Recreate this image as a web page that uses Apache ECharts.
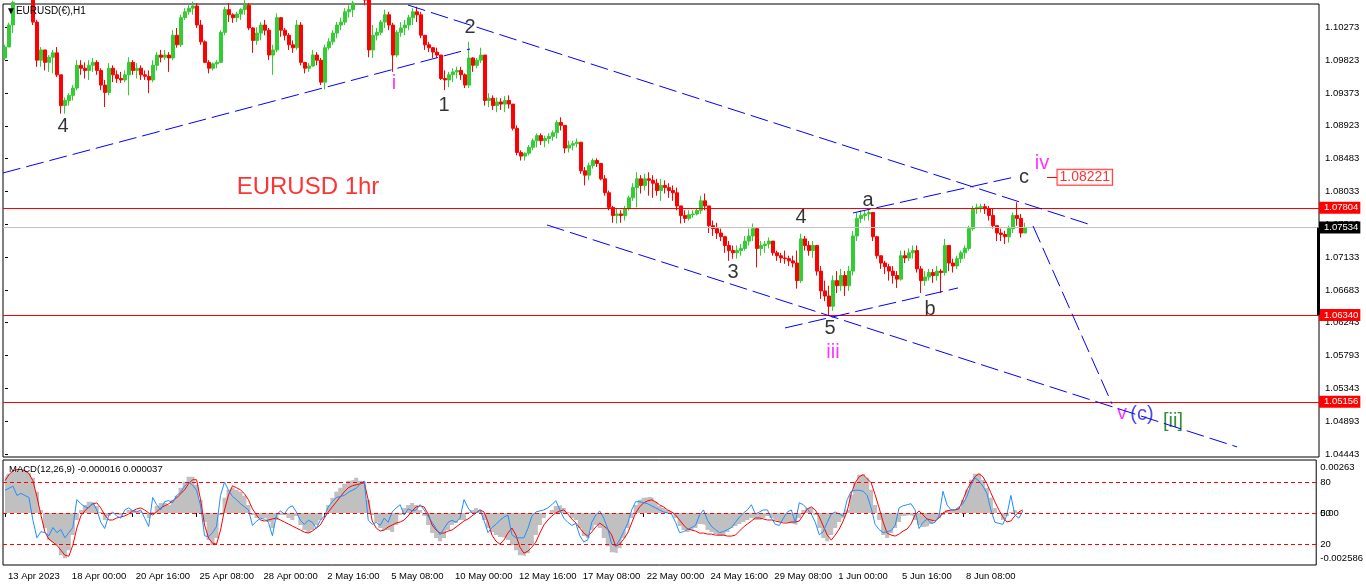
<!DOCTYPE html>
<html>
<head>
<meta charset="utf-8">
<script src="https://cdn.jsdelivr.net/npm/echarts@6/dist/echarts.min.js"></script>
<style>
html, body { margin: 0; padding: 0; background: #fff; }
#main { width: 1366px; height: 588px; }
</style>
</head>
<body>
<div id="main"></div>
<script>
const opens = [
  1.0985,1.1000,1.1030,1.1061,1.1071,1.1075,1.1068,1.1064,1.1034,1.0982,
  1.0996,1.0979,1.0986,1.0992,1.0962,1.0920,1.0927,1.0934,1.0944,1.0975,
  1.0971,1.0968,1.0975,1.0979,1.0968,1.0948,1.0938,1.0971,1.0962,1.0957,
  1.0955,1.0962,1.0979,1.0968,1.0971,1.0962,1.0960,1.0955,1.0975,1.0989,
  1.0986,1.0989,1.0985,1.1016,1.1003,1.1040,1.1048,1.1053,1.1056,1.1030,
  1.1007,1.0979,1.0971,1.0977,1.0979,1.1020,1.1051,1.1044,1.1040,1.1045,
  1.1051,1.1057,1.1026,1.1009,1.1019,1.1030,1.1023,1.0989,1.0996,1.1040,
  1.1023,1.1016,1.1003,1.0999,1.1030,1.0979,1.0971,1.0974,1.0989,1.0982,
  1.0952,1.0999,1.1007,1.1019,1.1030,1.1034,1.1048,1.1051,1.1060,1.1064,
  1.1071,1.1064,1.0996,1.1016,1.1020,1.1034,1.1044,1.1030,1.0989,1.1020,
  1.1026,1.1030,1.1040,1.1048,1.1044,1.1016,1.1003,1.0999,1.0993,1.0989,
  1.0957,1.0955,1.0962,1.0966,1.0968,1.0962,1.0948,1.0985,1.0975,1.0982,
  1.0989,1.0927,1.0930,1.0920,1.0925,1.0922,1.0927,1.0922,1.0889,1.0856,
  1.0851,1.0855,1.0863,1.0872,1.0879,1.0872,1.0875,1.0878,1.0883,1.0897,
  1.0893,1.0862,1.0866,1.0868,1.0870,1.0831,1.0825,1.0838,1.0845,1.0841,
  1.0820,1.0801,1.0781,1.0770,1.0772,1.0770,1.0779,1.0794,1.0808,1.0820,
  1.0811,1.0820,1.0818,1.0814,1.0804,1.0811,1.0808,1.0804,1.0801,1.0783,
  1.0770,1.0766,1.0771,1.0772,1.0777,1.0790,1.0783,1.0756,1.0752,1.0746,
  1.0741,1.0729,1.0722,1.0719,1.0722,1.0725,1.0735,1.0742,1.0752,1.0725,
  1.0729,1.0731,1.0735,1.0719,1.0715,1.0712,1.0711,1.0708,1.0705,1.0681,
  1.0738,1.0729,1.0722,1.0729,1.0694,1.0667,1.0660,1.0646,1.0681,1.0674,
  1.0688,1.0674,1.0694,1.0742,1.0766,1.0770,1.0772,1.0774,1.0741,1.0715,
  1.0705,1.0700,1.0694,1.0688,1.0683,1.0715,1.0712,1.0719,1.0722,1.0697,
  1.0681,1.0686,1.0692,1.0688,1.0694,1.0692,1.0729,1.0705,1.0701,1.0711,
  1.0719,1.0725,1.0752,1.0779,1.0781,1.0782,1.0779,1.0770,1.0756,1.0746,
  1.0744,1.0741,1.0752,1.0770,1.0766,1.0746
];
const closes = [
  1.1000,1.1030,1.1061,1.1071,1.1075,1.1068,1.1064,1.1034,1.0982,1.0996,
  1.0979,1.0986,1.0992,1.0962,1.0920,1.0927,1.0934,1.0944,1.0975,1.0971,
  1.0968,1.0975,1.0979,1.0968,1.0948,1.0938,1.0971,1.0962,1.0957,1.0955,
  1.0962,1.0979,1.0968,1.0971,1.0962,1.0960,1.0955,1.0975,1.0989,1.0986,
  1.0989,1.0985,1.1016,1.1003,1.1040,1.1048,1.1053,1.1056,1.1030,1.1007,
  1.0979,1.0971,1.0977,1.0979,1.1020,1.1051,1.1044,1.1040,1.1045,1.1051,
  1.1057,1.1026,1.1009,1.1019,1.1030,1.1023,1.0989,1.0996,1.1040,1.1023,
  1.1016,1.1003,1.0999,1.1030,1.0979,1.0971,1.0974,1.0989,1.0982,1.0952,
  1.0999,1.1007,1.1019,1.1030,1.1034,1.1048,1.1051,1.1060,1.1064,1.1071,
  1.1064,1.0996,1.1016,1.1020,1.1034,1.1044,1.1030,1.0989,1.1020,1.1026,
  1.1030,1.1040,1.1048,1.1044,1.1016,1.1003,1.0999,1.0993,1.0989,1.0957,
  1.0955,1.0962,1.0966,1.0968,1.0962,1.0948,1.0985,1.0975,1.0982,1.0989,
  1.0927,1.0930,1.0920,1.0925,1.0922,1.0927,1.0922,1.0889,1.0856,1.0851,
  1.0855,1.0863,1.0872,1.0879,1.0872,1.0875,1.0878,1.0883,1.0897,1.0893,
  1.0862,1.0866,1.0868,1.0870,1.0831,1.0825,1.0838,1.0845,1.0841,1.0820,
  1.0801,1.0781,1.0770,1.0772,1.0770,1.0779,1.0794,1.0808,1.0820,1.0811,
  1.0820,1.0818,1.0814,1.0804,1.0811,1.0808,1.0804,1.0801,1.0783,1.0770,
  1.0766,1.0771,1.0772,1.0777,1.0790,1.0783,1.0756,1.0752,1.0746,1.0741,
  1.0729,1.0722,1.0719,1.0722,1.0725,1.0735,1.0742,1.0752,1.0725,1.0729,
  1.0731,1.0735,1.0719,1.0715,1.0712,1.0711,1.0708,1.0705,1.0681,1.0738,
  1.0729,1.0722,1.0729,1.0694,1.0667,1.0660,1.0646,1.0681,1.0674,1.0688,
  1.0674,1.0694,1.0742,1.0766,1.0770,1.0772,1.0774,1.0741,1.0715,1.0705,
  1.0700,1.0694,1.0688,1.0683,1.0715,1.0712,1.0719,1.0722,1.0697,1.0681,
  1.0686,1.0692,1.0688,1.0694,1.0692,1.0729,1.0705,1.0701,1.0711,1.0719,
  1.0725,1.0752,1.0779,1.0781,1.0782,1.0779,1.0770,1.0756,1.0746,1.0744,
  1.0741,1.0752,1.0770,1.0766,1.0746,1.0753
];
const lows = [
  1.0982,1.1000,1.1019,1.1060,1.1068,1.1064,1.1060,1.1030,1.0973,1.0973,
  1.0968,1.0966,1.0964,1.0959,1.0909,1.0909,1.0920,1.0927,1.0941,1.0962,
  1.0957,1.0955,1.0966,1.0962,1.0941,1.0918,1.0934,1.0952,1.0951,1.0951,
  1.0952,1.0934,1.0962,1.0957,1.0955,1.0955,1.0937,1.0952,1.0968,1.0979,
  1.0982,1.0966,1.0982,1.0999,1.1000,1.1037,1.1044,1.1044,1.1026,1.1003,
  1.0978,1.0964,1.0968,1.0971,1.0978,1.1016,1.1034,1.1033,1.1034,1.1037,
  1.1044,1.1023,1.0992,1.1003,1.1009,1.1016,1.0982,1.0962,1.0993,1.1014,
  1.1009,1.0996,1.0992,1.0996,1.0975,1.0964,1.0966,1.0973,1.0975,1.0948,
  1.0942,1.0996,1.1003,1.1012,1.1023,1.1030,1.1040,1.1041,1.1059,1.1062,
  1.1057,1.0986,1.0985,1.1009,1.1016,1.1026,1.1023,1.0966,1.0986,1.1014,
  1.1016,1.1023,1.1030,1.1034,1.1012,1.0996,1.0993,1.0985,1.0985,1.0955,
  1.0941,1.0945,1.0952,1.0957,1.0955,1.0944,1.0944,1.0966,1.0971,1.0978,
  1.0920,1.0918,1.0914,1.0911,1.0914,1.0911,1.0916,1.0886,1.0852,1.0845,
  1.0845,1.0852,1.0859,1.0863,1.0866,1.0863,1.0868,1.0872,1.0875,1.0886,
  1.0855,1.0856,1.0859,1.0863,1.0827,1.0811,1.0818,1.0834,1.0836,1.0818,
  1.0797,1.0777,1.0760,1.0759,1.0760,1.0763,1.0777,1.0790,1.0781,1.0800,
  1.0804,1.0797,1.0794,1.0797,1.0790,1.0800,1.0794,1.0790,1.0777,1.0759,
  1.0760,1.0763,1.0767,1.0770,1.0772,1.0777,1.0746,1.0742,1.0738,1.0735,
  1.0719,1.0708,1.0711,1.0711,1.0715,1.0722,1.0729,1.0735,1.0699,1.0715,
  1.0719,1.0725,1.0715,1.0708,1.0705,1.0704,1.0701,1.0699,1.0670,1.0678,
  1.0722,1.0715,1.0712,1.0688,1.0656,1.0653,1.0634,1.0640,1.0664,1.0667,
  1.0660,1.0667,1.0688,1.0735,1.0760,1.0763,1.0763,1.0735,1.0711,1.0697,
  1.0690,1.0681,1.0677,1.0671,1.0681,1.0705,1.0708,1.0711,1.0692,1.0664,
  1.0674,1.0681,1.0678,1.0681,1.0664,1.0688,1.0694,1.0692,1.0697,1.0705,
  1.0711,1.0722,1.0749,1.0772,1.0774,1.0772,1.0763,1.0752,1.0735,1.0735,
  1.0731,1.0733,1.0746,1.0756,1.0740,1.0746
];
const highs = [
  1.1003,1.1033,1.1063,1.1078,1.1085,1.1081,1.1078,1.1068,1.1037,1.1000,
  1.0996,1.0989,1.0996,1.1000,1.0962,1.0931,1.0937,1.0948,1.0982,1.0982,
  1.0979,1.0982,1.0985,1.0982,1.0971,1.0955,1.0978,1.0975,1.0968,1.0966,
  1.0968,1.0986,1.0982,1.0978,1.0975,1.0968,1.0968,1.0982,1.0993,1.0996,
  1.0996,1.0993,1.1023,1.1026,1.1044,1.1053,1.1057,1.1062,1.1060,1.1037,
  1.1009,1.0982,1.0979,1.0982,1.1023,1.1055,1.1060,1.1046,1.1048,1.1053,
  1.1064,1.1060,1.1027,1.1027,1.1034,1.1037,1.1026,1.1003,1.1046,1.1041,
  1.1026,1.1019,1.1009,1.1037,1.1034,1.0979,1.0978,1.0996,1.0993,1.0985,
  1.1003,1.1012,1.1023,1.1034,1.1040,1.1053,1.1057,1.1063,1.1071,1.1078,
  1.1075,1.1067,1.1030,1.1026,1.1037,1.1051,1.1048,1.1033,1.1023,1.1034,
  1.1037,1.1044,1.1053,1.1055,1.1048,1.1016,1.1007,1.1000,1.0999,1.0989,
  1.0968,1.0966,1.0971,1.0973,1.0973,1.0964,1.1007,1.0986,1.0985,1.0999,
  1.0989,1.0937,1.0934,1.0931,1.0930,1.0933,1.0934,1.0922,1.0893,1.0859,
  1.0856,1.0866,1.0875,1.0882,1.0882,1.0879,1.0882,1.0886,1.0900,1.0904,
  1.0893,1.0872,1.0872,1.0875,1.0870,1.0836,1.0842,1.0848,1.0848,1.0841,
  1.0825,1.0804,1.0783,1.0779,1.0777,1.0783,1.0797,1.0814,1.0829,1.0825,
  1.0827,1.0829,1.0825,1.0820,1.0820,1.0818,1.0814,1.0811,1.0808,1.0783,
  1.0777,1.0777,1.0777,1.0779,1.0797,1.0800,1.0783,1.0763,1.0760,1.0752,
  1.0742,1.0735,1.0729,1.0729,1.0731,1.0742,1.0752,1.0759,1.0752,1.0735,
  1.0735,1.0740,1.0735,1.0722,1.0719,1.0722,1.0715,1.0715,1.0722,1.0745,
  1.0742,1.0735,1.0735,1.0729,1.0701,1.0681,1.0674,1.0688,1.0694,1.0697,
  1.0694,1.0701,1.0749,1.0774,1.0777,1.0777,1.0780,1.0774,1.0742,1.0715,
  1.0708,1.0704,1.0701,1.0694,1.0722,1.0722,1.0725,1.0729,1.0729,1.0701,
  1.0694,1.0697,1.0697,1.0701,1.0697,1.0738,1.0729,1.0711,1.0715,1.0722,
  1.0729,1.0756,1.0783,1.0786,1.0786,1.0786,1.0783,1.0779,1.0756,1.0752,
  1.0749,1.0756,1.0774,1.0788,1.0772,1.0760
];

// MACD(12,26,9) histogram and signal, plus the overlaid blue oscillator
const macdHist = [
  0.00175,0.00195,0.00205,0.0021,0.0021,0.0021,0.002,0.00175,0.00105,0.00015,
  -0.00075,-0.00135,-0.00145,-0.0016,-0.0021,-0.00225,-0.00185,-0.0011,-0.00035,0.00015,
  0.0004,0.00055,0.0005,0.00035,0.00005,-0.00035,-0.00015,-0.00005,-0.0001,-0.00015,
  -0.00005,0.00015,0.00015,0.0001,0.00005,-0.00005,-0.00025,0.00005,0.00035,0.0005,
  0.0005,0.0004,0.00065,0.00085,0.00125,0.00155,0.0018,0.0018,0.0014,0.00065,
  -0.00045,-0.00135,-0.0016,-0.00125,-0.0001,0.00075,0.00115,0.00125,0.00115,0.00105,
  0.00085,0.0004,-0.0001,-0.00025,-0.00025,-0.00025,-0.00045,-0.00075,-0.00035,-0.0001,
  -0.0001,-0.00025,-0.00035,-0.00015,-0.0006,-0.00085,-0.001,-0.00085,-0.0006,-0.00035,
  0,0.0004,0.00075,0.00105,0.00125,0.00145,0.0016,0.00165,0.00175,0.0016,
  0.00155,0.00065,-0.0001,-0.00045,-0.00075,-0.00085,-0.00085,-0.00095,-0.0006,-0.0001,
  0.00025,0.0004,0.0005,0.0004,0.00015,-0.00015,-0.0006,-0.001,-0.00125,-0.0014,
  -0.00125,-0.00085,-0.0006,-0.0005,-0.00035,-0.00035,0.00005,0.00015,0.00025,0.00015,
  -0.00035,-0.00075,-0.00095,-0.0011,-0.0012,-0.00125,-0.00135,-0.0016,-0.00185,-0.0021,
  -0.00215,-0.002,-0.0016,-0.0011,-0.0006,-0.00025,0,0.00015,0.00035,0.0004,
  0.00025,0.00005,-0.00025,-0.00035,-0.00075,-0.00115,-0.00125,-0.00085,-0.0006,-0.00075,
  -0.00125,-0.00165,-0.00195,-0.002,-0.00175,-0.00125,-0.00075,-0.00025,0.0004,0.00065,
  0.00075,0.0008,0.00075,0.00055,0.00035,0.00025,0.00015,0.00005,-0.00025,-0.00065,
  -0.00085,-0.00095,-0.00085,-0.00075,-0.00055,-0.0006,-0.00085,-0.00095,-0.00105,-0.00115,
  -0.0011,-0.00095,-0.00075,-0.00065,-0.00055,-0.00045,-0.00035,-0.00025,-0.00035,-0.00035,
  -0.00025,-0.00015,-0.00025,-0.00035,-0.00045,-0.00045,-0.0005,-0.00055,-0.0006,-0.00025,
  0.00015,0.00025,0.00025,-0.0001,-0.00075,-0.00125,-0.0014,-0.0011,-0.00075,-0.00045,
  -0.00025,0.00015,0.0009,0.00155,0.0019,0.00195,0.00175,0.00115,0.0004,-0.00035,
  -0.0011,-0.00125,-0.001,-0.00075,-0.00045,-0.00015,-0.0001,-0.00015,-0.00035,-0.0006,
  -0.0007,-0.00065,-0.00055,-0.00035,-0.00025,-0.0001,0.00015,0.00015,0.00015,0.00025,
  0.00065,0.00115,0.00165,0.00195,0.00195,0.00165,0.00125,0.00075,0.00025,-0.00005,
  -0.00035,-0.00015,0.00005,0.00015,0.00005,-0.00005
];
const macdSignal = [
  0.0016,0.0019,0.0021,0.00215,0.00215,0.0021,0.00195,0.0016,0.0008,-0.0001,
  -0.00095,-0.0013,-0.00145,-0.0016,-0.00185,-0.0021,-0.00215,-0.0016,-0.00075,-0.00015,
  0.0001,0.0003,0.00045,0.0005,0.00025,-0.0001,-0.00035,-0.00035,-0.00025,-0.0002,
  -0.00015,-0.00005,0.0001,0.0002,0.00025,0.00015,0,-0.0001,0.00005,0.00025,
  0.00035,0.00045,0.0006,0.00075,0.00095,0.00115,0.00145,0.00165,0.00165,0.00065,
  -0.0006,-0.00125,-0.0015,-0.00155,-0.00085,0.00015,0.0009,0.00135,0.00125,0.00115,
  0.00095,0.00065,0.0002,-0.0001,-0.00035,-0.0004,-0.00035,-0.0003,-0.00025,-0.00035,
  -0.00045,-0.00055,-0.00065,-0.00075,-0.00085,-0.00095,-0.001,-0.0009,-0.00075,-0.0006,
  -0.00025,0.00005,0.0003,0.00055,0.0008,0.00105,0.00125,0.00135,0.0014,0.00145,
  0.0015,0.00065,-0.0004,-0.00075,-0.0009,-0.00085,-0.0007,-0.0006,-0.0005,-0.00045,
  -0.00035,-0.00015,0.0001,0.0003,0.00035,0.0003,-0.00005,-0.0006,-0.00085,-0.001,
  -0.001,-0.0009,-0.00085,-0.0007,-0.00055,-0.0004,-0.0003,-0.00015,0,0.00015,
  0.00005,-0.00045,-0.0011,-0.0014,-0.00155,-0.00135,-0.001,-0.00075,-0.0011,-0.0017,
  -0.002,-0.0019,-0.0017,-0.00145,-0.001,-0.0006,-0.00035,-0.00015,0,0.0001,
  0.00015,-0.00005,-0.0003,-0.0005,-0.00075,-0.001,-0.00115,-0.00095,-0.0007,-0.0005,
  -0.00065,-0.0008,-0.0011,-0.00165,-0.00155,-0.0013,-0.001,-0.0005,0,0.0003,
  0.0005,0.0006,0.00065,0.00055,0.0004,0.0003,0.00015,0.00005,-0.0001,-0.00035,
  -0.0006,-0.0008,-0.00085,-0.0009,-0.001,-0.001,-0.00105,-0.00105,-0.0011,-0.0011,
  -0.0011,-0.00115,-0.00115,-0.0011,-0.0009,-0.0007,-0.00055,-0.0004,-0.00025,-0.00025,
  -0.0003,-0.00035,-0.00035,-0.0004,-0.00045,-0.0005,-0.0005,-0.00045,-0.00045,-0.0004,
  -0.0001,0.0002,0.0003,0.00015,-0.0002,-0.00065,-0.0011,-0.00135,-0.0011,-0.0008,
  -0.0004,0.0001,0.00095,0.0015,0.0018,0.0019,0.0017,0.0015,0.0009,0.00025,
  -0.00045,-0.001,-0.0011,-0.00115,-0.00105,-0.0009,-0.0008,-0.00055,-0.0001,0.0001,
  -0.0001,-0.0003,-0.00035,-0.0004,-0.00025,0,0.0001,0.00015,0.00015,0.0002,
  0.00065,0.00115,0.0015,0.0018,0.00195,0.0018,0.00145,0.001,0.00055,0.00015,
  -0.0002,-0.00045,-0.0004,-0.00015,0.00005,0.00015
];
const oscLine = [
  72,74,76,67,69,67,65,43,26,32,
  31,28,36,31,34,26,31,36,63,59,
  56,55,60,53,41,35,48,51,47,45,
  53,55,52,51,53,45,37,65,58,53,
  61,62,60,67,70,76,80,77,72,57,
  28,27,31,37,67,80,72,66,63,59,
  56,53,38,42,45,44,41,28,48,52,
  49,55,57,51,43,39,43,41,35,43,
  47,56,61,65,66,67,70,72,74,78,
  81,43,39,41,38,45,41,51,55,58,
  48,54,52,53,58,53,47,41,35,29,
  35,41,43,41,45,63,55,50,50,53,
  43,31,36,39,43,46,48,29,26,26,
  26,35,47,51,52,53,55,58,62,53,
  45,41,38,40,28,22,24,41,48,52,
  45,35,20,18,24,32,40,53,61,61,
  60,59,57,55,53,51,50,49,41,31,
  32,34,36,38,48,53,43,37,34,31,
  32,34,36,41,46,50,53,58,49,51,
  53,53,45,39,38,45,51,53,41,60,
  58,54,49,41,29,32,41,49,51,49,
  47,63,71,72,72,71,67,55,39,34,
  31,32,33,38,55,57,58,59,53,35,
  41,44,40,41,47,71,58,53,53,56,
  59,66,77,84,81,76,69,53,41,40,
  39,48,67,48,45,52
];

const priceTicks = [1.10273, 1.09823, 1.09373, 1.08923, 1.08483, 1.08033, 1.07583,
  1.07133, 1.06683, 1.06243, 1.05793, 1.05343, 1.04893, 1.04443];
const macdTicks = [0.00263, 0, -0.002586];
const oscTicks = [80, 50, 20];
const timeLabels = ['13 Apr 2023', '18 Apr 00:00', '20 Apr 16:00', '25 Apr 08:00',
  '28 Apr 00:00', '2 May 16:00', '5 May 08:00', '10 May 00:00', '12 May 16:00',
  '17 May 08:00', '22 May 00:00', '24 May 16:00', '29 May 08:00', '1 Jun 00:00',
  '5 Jun 16:00', '8 Jun 08:00'];

// horizontal levels and the bid price
const redLevels = [1.07804, 1.06340, 1.05156];
const bidPrice = 1.07534;
const targetPrice = 1.08221;

// trend lines: [slot, price] -> [slot, price]
const trendLines = [
  [[-0.5, 1.08280], [116.25, 1.09973]],
  [[100.75, 1.10573], [270.75, 1.07584]],
  [[135.5, 1.07570], [308, 1.04540]],
  [[195, 1.06164], [238.25, 1.06710]],
  [[212, 1.07734], [252.5, 1.08226]],
  [[257, 1.07557], [276.75, 1.05127]]
];

// wave labels
const waveText = ['4', 'i', '1', '2', '3', '4', '5', 'iii', 'a', 'b', 'c', 'iv', 'v', '(c)', '[ii]', 'EURUSD 1hr'];
const waveSlot = [14.5, 97.25, 109.75, 116.25, 182, 199, 206.25, 207, 215.75, 231.25, 254.75, 259.25, 279.25, 284.25, 292, 75.75];
const wavePrice = [1.08908, 1.09495, 1.09195, 1.10266, 1.06915, 1.07679, 1.06151, 1.05823, 1.07898, 1.06410, 1.08212, 1.08403, 1.04990, 1.04977, 1.04881, 1.08089];
const waveColor = ['#000', '#ff00ff', '#000', '#000', '#000', '#000', '#000', '#ff00ff', '#000', '#000', '#000', '#ff00ff', '#ff00ff', '#1c1ce0', '#067006', '#ff0000'];
const waveSize = [20, 20, 20, 20, 20, 20, 20, 20, 20, 20, 20, 20, 20, 20, 20, 24];

const SLOTS = 329;
const slots = Array.from({ length: SLOTS }, (_, i) => String(i));
const FONT = 'Liberation Sans';

const chart = echarts.init(document.getElementById('main'));

const candles = closes.map((c, i) => [opens[i], c, lows[i], highs[i]]);
const showTime = i => i % 16 === 0 && i / 16 < timeLabels.length;

function levelLine(value, lineColor, boxColor) {
  return {
    yAxis: value,
    lineStyle: { color: lineColor, type: 'solid', width: 1 },
    label: {
      show: true, position: 'end', distance: 0,
      formatter: value.toFixed(5),
      color: '#fff', backgroundColor: boxColor,
      padding: [1, 2, 0, 5], fontSize: 9.5, fontFamily: FONT, lineHeight: 11
    }
  };
}

chart.setOption({
  animation: false,
  backgroundColor: '#fff',
  title: [
    { text: '\u25BCEURUSD(\u20AC),H1', left: 6, top: 6, padding: 0,
      textStyle: { fontSize: 10, fontWeight: 'normal', color: '#000', fontFamily: FONT } },
    { text: 'MACD(12,26,9) -0.000016 0.000037', left: 9, top: 464, padding: 0,
      textStyle: { fontSize: 9.5, fontWeight: 'normal', color: '#000', fontFamily: FONT } }
  ],
  grid: [
    { left: 3, top: 4, width: 1316, height: 453, show: true, borderColor: '#000', borderWidth: 1 },
    { left: 3, top: 460, width: 1316, height: 105, show: true, borderColor: '#000', borderWidth: 1 }
  ],
  xAxis: [
    { type: 'category', gridIndex: 0, data: slots, boundaryGap: true,
      axisLine: { show: false }, axisTick: { show: false }, axisLabel: { show: false }, splitLine: { show: false } },
    { type: 'category', gridIndex: 1, data: slots, boundaryGap: true,
      axisLine: { show: false },
      axisTick: { show: true, alignWithLabel: true, interval: showTime, length: 4, lineStyle: { color: '#000' } },
      axisLabel: { interval: showTime, formatter: (v, i) => timeLabels[i / 16] || '',
        align: 'left', margin: 6, padding: [0, 0, 0, 3], fontSize: 9.5, color: '#000', fontFamily: FONT },
      splitLine: { show: false } },
    { type: 'value', gridIndex: 0, min: -0.5, max: SLOTS - 0.5, show: false }
  ],
  yAxis: [
    { type: 'value', gridIndex: 0, position: 'right', min: 1.04402, max: 1.10587,
      splitLine: { show: false }, axisLine: { show: false },
      axisTick: { show: true, customValues: priceTicks, length: 3, lineStyle: { color: '#000' } },
      axisLabel: { customValues: priceTicks, formatter: v => v.toFixed(5), margin: 6,
        fontSize: 9.5, color: '#000', fontFamily: FONT } },
    { type: 'value', gridIndex: 1, position: 'right', min: -0.002586, max: 0.00263,
      splitLine: { show: false }, axisLine: { show: false }, axisTick: { show: false },
      axisLabel: { customValues: macdTicks, margin: 4,
        formatter: v => v > 0 ? '{t|' + v + '}' : (v < 0 ? '{b|' + v + '}' : '{m|0.00}'),
        rich: {
          t: { padding: [14, 0, 0, 0], fontSize: 9.5, color: '#000', fontFamily: FONT },
          b: { padding: [0, 0, 14, 0], fontSize: 9.5, color: '#000', fontFamily: FONT },
          m: { fontSize: 9.5, color: '#000', fontFamily: FONT }
        } } },
    { type: 'value', gridIndex: 1, position: 'right', min: -0.3, max: 101.3,
      splitLine: { show: false }, axisLine: { show: false }, axisTick: { show: false },
      axisLabel: { customValues: oscTicks, margin: 4, fontSize: 9.5, color: '#000', fontFamily: FONT } }
  ],
  series: [
    {
      type: 'candlestick', xAxisIndex: 0, yAxisIndex: 0, data: candles, clip: true,
      barWidth: 3,
      itemStyle: { color: '#32cd32', color0: '#ff0000', borderColor: '#32cd32', borderColor0: '#ff0000', borderWidth: 1 }
    },
    {
      type: 'scatter', xAxisIndex: 2, yAxisIndex: 0, symbolSize: 1, silent: true,
      itemStyle: { color: 'transparent' },
      label: { show: true, position: 'inside', formatter: '{b}', fontFamily: FONT },
      data: waveText.map((t, i) => ({
        name: t, value: [waveSlot[i], wavePrice[i]],
        label: { color: waveColor[i], fontSize: waveSize[i] }
      })).concat([{
        name: targetPrice.toFixed(5), value: [263, targetPrice],
        label: { position: 'right', distance: 0, color: '#ff0000', fontSize: 14, fontFamily: FONT,
          backgroundColor: '#fff', borderColor: '#ff0000', borderWidth: 1, padding: [1, 2, 0, 2] }
      }]),
      markLine: {
        silent: true, symbol: ['none', 'none'], precision: 6,
        label: { show: false },
        data: [
          levelLine(redLevels[0], '#ff0000', '#ff0000'),
          levelLine(bidPrice, '#c0c0c0', '#000'),
          levelLine(redLevels[1], '#ff0000', '#ff0000'),
          levelLine(redLevels[2], '#ff0000', '#ff0000')
        ].concat(trendLines.map(l => [
          { coord: l[0], lineStyle: { color: '#0000ff', type: [18, 6], width: 1 } },
          { coord: l[1] }
        ])).concat([[
          { coord: [260.5, targetPrice], lineStyle: { color: '#ff0000', type: 'solid', width: 1 } },
          { coord: [263, targetPrice] }
        ]])
      }
    },
    {
      type: 'line', xAxisIndex: 1, yAxisIndex: 1, data: macdHist, step: 'middle', symbol: 'none',
      lineStyle: { width: 0 }, areaStyle: { color: '#c0c0c0', opacity: 1 }, silent: true, z: 1
    },
    {
      type: 'line', xAxisIndex: 1, yAxisIndex: 1, data: macdSignal, symbol: 'none',
      lineStyle: { color: '#ff0000', width: 1 }, silent: true, z: 2
    },
    {
      type: 'line', xAxisIndex: 1, yAxisIndex: 2, data: oscLine, symbol: 'none',
      lineStyle: { color: '#1e90ff', width: 1 }, silent: true, z: 3,
      markLine: {
        silent: true, symbol: ['none', 'none'], label: { show: false },
        lineStyle: { color: '#ff0000', type: [4, 3], width: 1 },
        data: oscTicks.map(v => ({ yAxis: v }))
      }
    }
  ]
});

// thick bar on the price scale between the bid and the lower red level
const yBid = chart.convertToPixel({ yAxisIndex: 0 }, bidPrice);
const yLow = chart.convertToPixel({ yAxisIndex: 0 }, redLevels[1]);
chart.setOption({
  graphic: [{ type: 'rect', z: 100, shape: { x: 1317, y: yBid, width: 3, height: yLow - yBid }, style: { fill: '#000' } }]
});
</script>
</body>
</html>
